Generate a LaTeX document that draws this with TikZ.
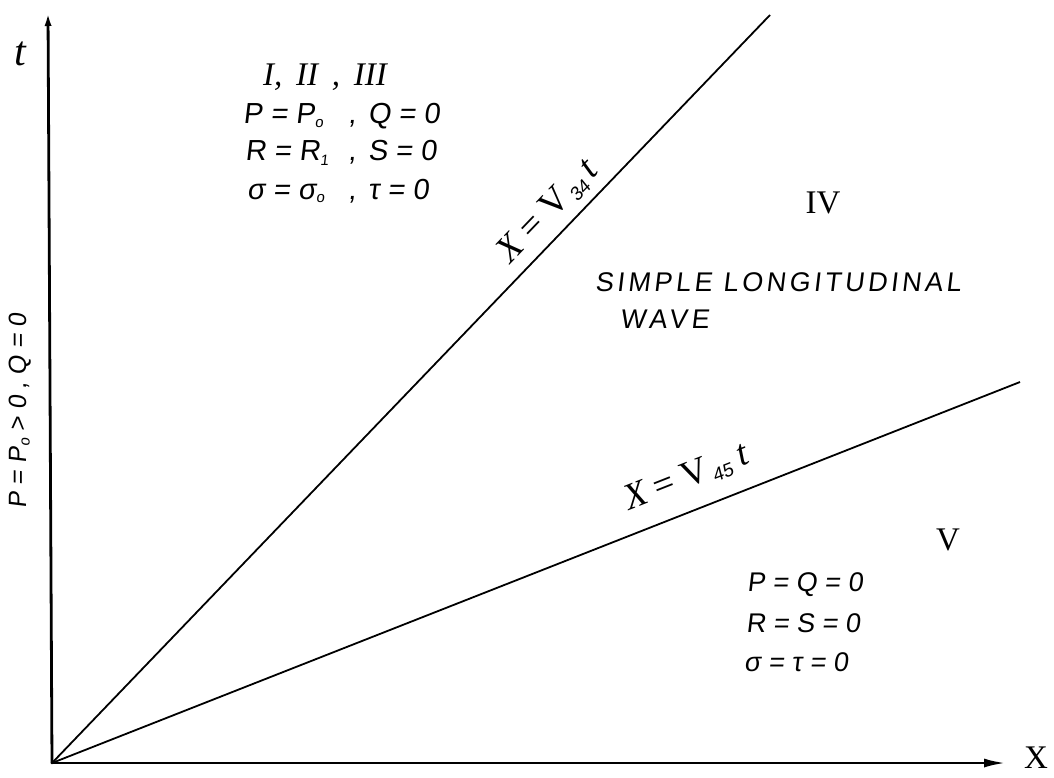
\documentclass[tikz,border=0pt]{standalone}
\usepackage{fontspec}
\setmainfont{Liberation Sans}
\newfontfamily\handfont[FakeSlant=0.12]{Liberation Sans}
\newfontfamily\serifnum{Liberation Serif}
\usetikzlibrary{arrows.meta}
\tikzset{
  axisline/.style={line width=2.8pt, line cap=round},
  waveline/.style={line width=1.8pt},
  hand/.style={inner sep=0pt, font=\handfont\fontsize{29}{32}\selectfont},
  handsmall/.style={inner sep=0pt, font=\handfont\fontsize{27}{30}\selectfont},
  numeral/.style={inner sep=0pt, font=\serifnum\fontsize{33}{36}\selectfont},
  eqn/.style={inner sep=0pt, font=\serifnum\fontsize{37}{39}\selectfont},
}
\newcommand{\subo}{\raisebox{-0.25ex}{\fontsize{15}{15}\selectfont o}}
\newcommand{\subone}{\raisebox{-0.3ex}{\fontsize{15}{15}\selectfont 1}}
\newcommand{\subnum}[1]{\raisebox{-0.3ex}{\handfont\fontsize{19}{19}\selectfont #1}}
\begin{document}
\begin{tikzpicture}[x=1pt,y=-1pt]
\useasboundingbox (0,0) rectangle (1054,777);
\fill[white] (0,0) rectangle (1054,777);
% axes
\coordinate (O) at (52,763);
\coordinate (T) at (48,12);
\coordinate (XE) at (1006,763);
\coordinate (A) at (770,15);
\coordinate (B) at (1020,382);
\draw[axisline, -{Latex[length=14pt,width=7pt]}] (O) -- (T);
\draw[axisline, -{Latex[length=22pt,width=9pt]}] (O) -- (XE);
\node[numeral, font=\serifnum\fontsize{42}{44}\selectfont] (tlab) at (20,54) {\itshape t};
\node[numeral] (xlab) at (1036,758) {X};
% characteristic lines
\draw[waveline] (O) -- (A)
  node[eqn, pos=0.715, sloped, above=8pt] (l34) {\itshape X\upshape\ = V\kern2pt\subnum{34}\kern6pt\itshape t};
\draw[waveline] (O) -- (B)
  node[eqn, pos=0.668, sloped, above=17pt] (l45) {\itshape X\upshape\ = V\kern2pt\subnum{45}\kern9pt\itshape t};
% region I, II, III
\node[numeral] (r123) at (325,77) {\itshape I,\,\ II\,\ ,\,\ III};
\node[hand, anchor=west] (p1) at (243,116) {\makebox[98pt][l]{P = P\subo}\makebox[22pt]{,}\,Q = 0};
\node[hand, anchor=west] (p2) at (245,153) {\makebox[96pt][l]{R = R\subone}\makebox[22pt]{,}\,S = 0};
\node[hand, anchor=west] (p3) at (247,191) {\makebox[94pt][l]{σ = σ\subo}\makebox[22pt]{,}\,τ = 0};
% left axis note
\node[hand, rotate=90, font=\handfont\fontsize{25}{28}\selectfont] (pl) at (20,411) {P = P\subo\ > 0\ ,\ Q = 0};
% region IV
\node[numeral] (r4) at (823,203) {IV};
\node[hand, anchor=west, font=\handfont\fontsize{27}{30}\selectfont\addfontfeatures{LetterSpace=13}] (slw1) at (595,282) {SIMPLE LONGITUDINAL};
\node[hand, anchor=west, font=\handfont\fontsize{27}{30}\selectfont\addfontfeatures{LetterSpace=15}] (slw2) at (620,319) {WAVE};
% region V
\node[numeral] (r5) at (948,540) {V};
\node[handsmall, anchor=west] (q1) at (747,585) {P = Q = 0};
\node[handsmall, anchor=west] (q2) at (746,623) {R = S = 0};
\node[handsmall, anchor=west] (q3) at (744,662) {σ = τ = 0};
\end{tikzpicture}
\end{document}
